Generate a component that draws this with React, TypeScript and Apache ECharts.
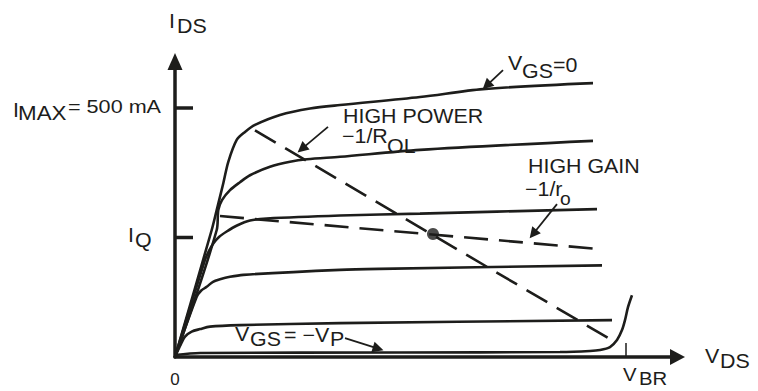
import React, { useEffect, useRef } from 'react';
import * as echarts from 'echarts';

// V_DS axis (arbitrary volts, 0..50) and I_DS axis (mA)
const X_MAX = 50.25;
const Y_MAX = 593.4;
const I_MAX = 500;
const I_Q = 240;
const V_BR = 45.1;

// Output characteristics, one array per gate voltage
const vgs0 = [[0, 0], [3.67, 255], [4.17, 295], [4.83, 349], [5.33, 392], [6.17, 436], [7.0, 452], [8.0, 466], [10.5, 486], [13.5, 499], [16.5, 506], [24.5, 522], [30.8, 538], [41.8, 550]];
const vgs1 = [[0, 0], [4.17, 255], [4.33, 295], [4.7, 315], [5.5, 335], [6.5, 351], [7.5, 365], [9.5, 382], [11.5, 392], [13.2, 397], [16.5, 402], [24.5, 416], [41.8, 434]];
const vgs2 = [[0, 0], [3.0, 195], [3.4, 213], [3.83, 228], [4.4, 241], [5.17, 252], [6.2, 264], [7.5, 274], [9.17, 278], [16.5, 284], [24.5, 288], [42.2, 297]];
const vgs3 = [[0, 0], [2.17, 121], [2.6, 133], [3.17, 141], [3.8, 151], [4.5, 156], [5.5, 161], [6.83, 165], [16.5, 175], [20.5, 177], [42.7, 184]];
const vgs4 = [[0, 0], [0.5, 22], [1.0, 41], [1.67, 51], [2.5, 56], [3.5, 61], [6.5, 64], [16.5, 68], [43.7, 74]];
const vgsPinch = [[0, 4], [2.5, 8], [22.5, 9], [38.5, 10], [41.5, 12], [42.5, 14], [43.5, 20], [44.2, 34], [44.7, 54], [45.0, 74], [45.3, 100], [45.7, 124]];

// Load lines and quiescent point
const highPowerLine = [[8.0, 455], [44.0, 30]];
const highGainLine = [[4.5, 283], [42.3, 217]];
const qPoint = [[25.8, 247]];

// Tick marks
const iMaxTick = [[0, I_MAX], [1.8, I_MAX]];
const iQTick = [[0, I_Q], [1.8, I_Q]];
const vBrTick = [[V_BR, 0], [V_BR, 28]];

// Pointer arrows [from, to]
const arrowVgs0 = [[32.8, 576], [31.16, 545]];
const arrowHighPower = [[15.3, 462], [12.68, 418]];
const arrowHighGain = [[38.2, 307], [35.81, 247]];
const arrowPinch = [[17.0, 38], [20.32, 17]];

const INK = '#1d1d1b';
const FONT = "'Liberation Sans', Arial, Helvetica, sans-serif";

function txt(text: string, x: number, y: number, size = 20, sx = 1.07, align = 'left') {
  return {
    type: 'text',
    x,
    y,
    scaleX: sx,
    silent: true,
    style: {
      text,
      fill: INK,
      font: `${size}px ${FONT}`,
      align,
      verticalAlign: 'middle',
    },
  };
}

function curve(data: number[][]) {
  return {
    type: 'line',
    data,
    showSymbol: false,
    smooth: 0.3,
    silent: true,
    lineStyle: { color: INK, width: 2.6 },
  };
}

function dashed(data: number[][]) {
  return {
    type: 'line',
    data,
    showSymbol: false,
    silent: true,
    lineStyle: { color: INK, width: 2.6, type: [24, 11] },
  };
}

function tick(data: number[][], width: number) {
  return {
    type: 'line',
    data,
    showSymbol: false,
    silent: true,
    lineStyle: { color: INK, width, cap: 'butt' },
  };
}

export default function App() {
  const ref = useRef<HTMLDivElement>(null);
  useEffect(() => {
    if (!ref.current) return;
    const chart = echarts.init(ref.current, undefined, { renderer: 'svg' });
    const arrowPairs = [arrowVgs0, arrowHighPower, arrowHighGain, arrowPinch].map((a) => [
      { coord: a[0] },
      { coord: a[1] },
    ]);
    chart.setOption({
      animation: false,
      backgroundColor: '#ffffff',
      grid: { left: 175, right: 80.5, top: 61.5, bottom: 34, containLabel: false },
      xAxis: {
        type: 'value',
        min: 0,
        max: X_MAX,
        axisLine: {
          show: true,
          onZero: false,
          symbol: ['none', 'triangle'],
          symbolSize: [16, 15],
          lineStyle: { color: INK, width: 3.5 },
        },
        axisTick: { show: false },
        axisLabel: { show: false },
        splitLine: { show: false },
      },
      yAxis: {
        type: 'value',
        min: 0,
        max: Y_MAX,
        axisLine: {
          show: true,
          onZero: false,
          symbol: ['none', 'triangle'],
          symbolSize: [15, 17],
          lineStyle: { color: INK, width: 3.5 },
        },
        axisTick: { show: false },
        axisLabel: { show: false },
        splitLine: { show: false },
      },
      series: [
        curve(vgs0),
        curve(vgs1),
        curve(vgs2),
        curve(vgs3),
        curve(vgs4),
        curve(vgsPinch),
        dashed(highPowerLine),
        dashed(highGainLine),
        tick(iMaxTick, 3.5),
        tick(iQTick, 3.5),
        tick(vBrTick, 1.5),
        {
          type: 'scatter',
          data: qPoint,
          symbol: 'circle',
          symbolSize: 12,
          silent: true,
          itemStyle: { color: INK },
          z: 5,
        },
        {
          type: 'line',
          data: [],
          silent: true,
          markLine: {
            silent: true,
            animation: false,
            symbol: ['none', 'triangle'],
            symbolSize: 11,
            label: { show: false },
            itemStyle: { color: INK },
            lineStyle: { color: INK, width: 1.8, type: 'solid' },
            emphasis: { disabled: true },
            data: arrowPairs,
          },
        },
      ],
      graphic: [
        txt('I', 169, 21),
        txt('DS', 177, 26),
        txt('I', 13, 109.5),
        txt('MAX', 18, 113, 20, 1.12),
        txt('= 500 mA', 68, 107, 18, 1.2),
        txt('HIGH POWER', 343, 116),
        txt('−1/R', 342, 136),
        txt('OL', 387, 146),
        txt('V', 508, 62.5),
        txt('GS', 522, 71),
        txt('=0', 553, 65),
        txt('HIGH GAIN', 528, 166),
        txt('−1/r', 525, 189),
        txt('o', 560, 199, 18),
        txt('I', 128, 234.5),
        txt('Q', 135, 240),
        txt('V', 235, 333.5),
        txt('GS', 250, 338.5),
        txt('= −V', 284, 335),
        txt('P', 330, 339),
        txt('0', 175, 379, 17, 1, 'center'),
        txt('V', 705, 355.5),
        txt('DS', 720, 360.5),
        txt('V', 623, 374, 19),
        txt('BR', 639, 378.5, 19),
      ],
    });
    return () => chart.dispose();
  }, []);
  return (
    <div
      ref={ref}
      style={{ position: 'absolute', left: 0, top: 0, width: 758, height: 391, background: '#fff' }}
    />
  );
}
